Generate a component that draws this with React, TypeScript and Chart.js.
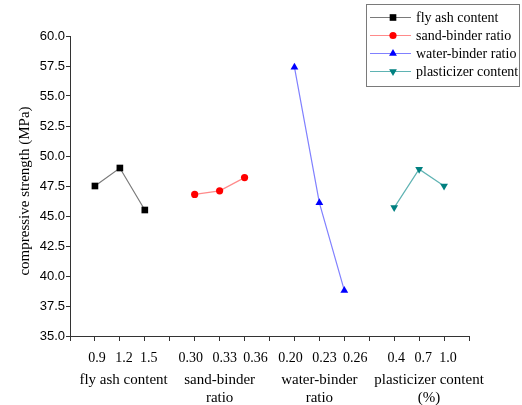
import React, { useEffect, useRef } from "react";
import { Chart, registerables } from "chart.js";

Chart.register(...registerables);

// ---- data ----
const flyAshLabels = ["0.9", "1.2", "1.5"];
const sandBinderLabels = ["0.30", "0.33", "0.36"];
const waterBinderLabels = ["0.20", "0.23", "0.26"];
const plasticizerLabels = ["0.4", "0.7", "1.0"];

const flyAshValues = [47.5, 49.0, 45.5];
const sandBinderValues = [46.8, 47.1, 48.2];
const waterBinderValues = [57.4, 46.1, 38.8];
const plasticizerValues = [45.7, 48.9, 47.5];

const seriesNames = [
  "fly ash content",
  "sand-binder ratio",
  "water-binder ratio",
  "plasticizer content",
];
const groupTitles = [
  ["fly ash content"],
  ["sand-binder", "ratio"],
  ["water-binder", "ratio"],
  ["plasticizer content", "(%)"],
];
const yTitle = "compressive strength (MPa)";
const yMin = 35;
const yMax = 60;
const yStep = 2.5;

// ---- derived ----
const tickGroups = [flyAshLabels, sandBinderLabels, waterBinderLabels, plasticizerLabels];
const valueGroups = [flyAshValues, sandBinderValues, waterBinderValues, plasticizerValues];

const styles = [
  { line: "#7a7a7a", point: "#000000", pointStyle: "rect", radius: 4.7, rotation: 0 },
  { line: "#ff8a8a", point: "#ff0000", pointStyle: "circle", radius: 3.6, rotation: 0 },
  { line: "#8080ff", point: "#0000ff", pointStyle: "triangle", radius: 4.5, rotation: 0 },
  { line: "#5fb3b3", point: "#008080", pointStyle: "triangle", radius: 4.5, rotation: 180 },
];
const groupLabelOffsets = [0.15, 0, 0, 0.4];
// label nudges (px) so the wider labels don't collide, as in the original figure
const shortLabelNudge = [2, 4, 4];
const longLabelNudge = [-4, 5, 11];

const serif = "'Liberation Serif', 'Times New Roman', serif";
const sans = "'Liberation Sans', Arial, sans-serif";

function drawMarker(ctx: CanvasRenderingContext2D, style: string, x: number, y: number, r: number, rot: number) {
  ctx.beginPath();
  if (style === "rect") {
    const s = r * Math.SQRT1_2;
    ctx.rect(x - s, y - s, 2 * s, 2 * s);
  } else if (style === "circle") {
    ctx.arc(x, y, r, 0, Math.PI * 2);
  } else {
    let rad = (rot * Math.PI) / 180;
    for (let i = 0; i < 3; i++) {
      const px = x + Math.sin(rad) * r;
      const py = y - Math.cos(rad) * r;
      if (i === 0) ctx.moveTo(px, py);
      else ctx.lineTo(px, py);
      rad += (2 * Math.PI) / 3;
    }
    ctx.closePath();
  }
  ctx.fill();
}

const customText = {
  id: "customText",
  afterDraw(chart: any) {
    const ctx: CanvasRenderingContext2D = chart.ctx;
    const xs = chart.scales.x;
    const ys = chart.scales.y;
    ctx.save();
    ctx.fillStyle = "#000";
    ctx.textBaseline = "middle";
    ctx.textAlign = "center";
    // x tick labels
    ctx.font = `14px ${serif}`;
    tickGroups.forEach((g, gi) => {
      g.forEach((t, k) => {
        const nudge = t.length > 3 ? longLabelNudge[k] : shortLabelNudge[k];
        ctx.fillText(t, xs.getPixelForValue(gi * 4 + k + 1) + nudge, 358);
      });
    });
    // group titles under the x axis
    ctx.font = `15px ${serif}`;
    groupTitles.forEach((lines, gi) => {
      const cx = xs.getPixelForValue(gi * 4 + 2 + groupLabelOffsets[gi]);
      lines.forEach((t, li) => ctx.fillText(t, cx, 380 + li * 18));
    });
    // y title
    ctx.save();
    ctx.translate(25, (ys.top + ys.bottom) / 2 + 5);
    ctx.rotate(-Math.PI / 2);
    ctx.font = `15px ${serif}`;
    ctx.fillText(yTitle, 0, 0);
    ctx.restore();
    // legend box
    ctx.strokeStyle = "#7a7a7a";
    ctx.lineWidth = 1;
    ctx.strokeRect(366.5, 4.5, 153, 82);
    ctx.font = `14px ${serif}`;
    ctx.textAlign = "left";
    seriesNames.forEach((name, i) => {
      const y = 17 + i * 18;
      const st = styles[i];
      ctx.strokeStyle = st.line;
      ctx.beginPath();
      ctx.moveTo(370, y + 0.5);
      ctx.lineTo(411, y + 0.5);
      ctx.stroke();
      ctx.fillStyle = st.point;
      drawMarker(ctx, st.pointStyle, 393, y + 0.5, st.radius, st.rotation);
      ctx.fillStyle = "#000";
      ctx.fillText(name, 416, y + 1);
    });
    ctx.restore();
  },
};

export default function App() {
  const ref = useRef<HTMLCanvasElement | null>(null);
  useEffect(() => {
    if (!ref.current) return;
    const datasets = valueGroups.map((vals, gi) => ({
      label: seriesNames[gi],
      data: vals.map((v, k) => ({ x: gi * 4 + k + 1, y: v })),
      borderColor: styles[gi].line,
      backgroundColor: styles[gi].point,
      pointBackgroundColor: styles[gi].point,
      pointBorderColor: styles[gi].point,
      pointBorderWidth: 0,
      pointStyle: styles[gi].pointStyle,
      pointRotation: styles[gi].rotation,
      pointRadius: styles[gi].radius,
      borderWidth: 1.2,
      tension: 0,
    }));
    const chart = new Chart(ref.current, {
      type: "line",
      data: { datasets },
      plugins: [customText],
      options: {
        animation: false,
        responsive: false,
        devicePixelRatio: 1,
        layout: { padding: { left: 0, right: 53, top: 36, bottom: 0 } },
        plugins: { legend: { display: false }, tooltip: { enabled: false } },
        scales: {
          x: {
            type: "linear",
            min: 0,
            max: 16,
            afterFit: (s: any) => {
              s.height = 69;
            },
            ticks: {
              stepSize: 1,
              autoSkip: false,
              maxRotation: 0,
              padding: 8,
              color: "#000",
              font: { family: serif, size: 14 },
              callback: () => "",
            },
            grid: {
              display: true,
              drawOnChartArea: false,
              drawTicks: true,
              tickLength: 5,
              tickColor: "#333",
              tickWidth: 1,
            },
            border: { display: true, color: "#333", width: 1 },
          },
          y: {
            type: "linear",
            min: yMin,
            max: yMax,
            afterFit: (s: any) => {
              s.width = 70;
            },
            ticks: {
              stepSize: yStep,
              padding: 1,
              color: "#000",
              font: { family: sans, size: 13 },
              callback: (v: any) => Number(v).toFixed(1),
            },
            grid: {
              display: true,
              drawOnChartArea: false,
              drawTicks: true,
              tickLength: 4,
              tickColor: "#333",
              tickWidth: 1,
            },
            border: { display: true, color: "#333", width: 1 },
          },
        },
      },
    });
    return () => chart.destroy();
  }, []);
  return (
    <div style={{ position: "absolute", left: 0, top: 0, width: 522, height: 405, background: "#fff" }}>
      <canvas ref={ref} width={522} height={405} />
    </div>
  );
}
